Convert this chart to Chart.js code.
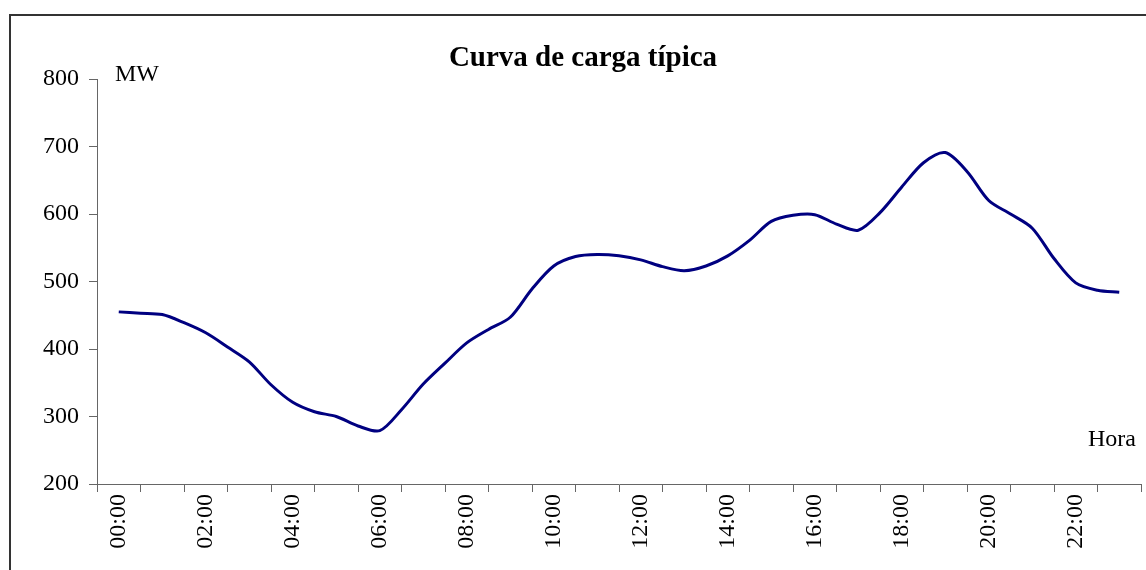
<!DOCTYPE html>
<html>
<head>
<meta charset="utf-8">
<script src="https://cdn.jsdelivr.net/npm/chart.js@4.4.1/dist/chart.umd.min.js"></script>
<style>
  html, body { margin: 0; padding: 0; background: #fff; overflow: hidden; }
  #wrap { position: relative; width: 1146px; height: 570px; overflow: hidden; background: #fff; }
  #frame { position: absolute; left: 9px; top: 14px; width: 1200px; height: 600px; border: 2px solid #333; pointer-events: none; }
  canvas { position: absolute; left: 0; top: 0; }
  .txt { position: absolute; font-family: "Liberation Serif", "Times New Roman", serif; color: #000; line-height: 1; white-space: nowrap; }
  #title { font-size: 29px; font-weight: bold; left: 583px; top: 42px; transform: translateX(-50%); }
  #mw { font-size: 24px; left: 115px; top: 61px; }
  #hora { font-size: 24px; left: 1088px; top: 426px; }
</style>
</head>
<body>
<div id="wrap">
  <canvas id="c" width="1146" height="570"></canvas>
  <div id="frame"></div>
  <div class="txt" id="title">Curva de carga típica</div>
  <div class="txt" id="mw">MW</div>
  <div class="txt" id="hora">Hora</div>
</div>
<script>
// Half-hourly times of the series
const horas = ["00:00","00:30","01:00","01:30","02:00","02:30","03:00","03:30","04:00","04:30",
  "05:00","05:30","06:00","06:30","07:00","07:30","08:00","08:30","09:00","09:30",
  "10:00","10:30","11:00","11:30","12:00","12:30","13:00","13:30","14:00","14:30",
  "15:00","15:30","16:00","16:30","17:00","17:30","18:00","18:30","19:00","19:30",
  "20:00","20:30","21:00","21:30","22:00","22:30","23:00"];
// Load in MW
const cargaMW = [455,453,451,439,424,403,381,347,321,307,
  300,286,279,310,348,379,409,429,447,489,
  523,537,540,538,532,522,516,523,538,561,
  589,598,599,585,576,602,640,676,691,663,
  620,600,579,534,498,487,484];
// Axis tick labels
const etiquetasX = ["00:00","02:00","04:00","06:00","08:00","10:00","12:00","14:00","16:00","18:00","20:00","22:00"];
const ticksY = [200,300,400,500,600,700,800];

const toHours = s => { const [h,m] = s.split(":").map(Number); return h + m/60; };
const puntos = horas.map((t,i) => ({ x: toHours(t), y: cargaMW[i] }));
const labelHours = etiquetasX.map(toHours);

const axisColor = '#666';
const font = { family: "'Liberation Serif', 'Times New Roman', serif", size: 24 };

new Chart(document.getElementById('c'), {
  type: 'line',
  data: {
    datasets: [{
      data: puntos,
      borderColor: '#000080',
      borderWidth: 3,
      pointRadius: 0,
      tension: 0.3,
      fill: false
    }]
  },
  options: {
    responsive: false,
    animation: false,
    devicePixelRatio: 1,
    layout: { padding: { top: 79, right: 5, left: 0, bottom: 0 } },
    plugins: { legend: { display: false }, tooltip: { enabled: false }, title: { display: false } },
    scales: {
      x: {
        type: 'linear',
        min: -0.5,
        max: 23.5,
        afterBuildTicks: (scale) => {
          const t = [];
          for (let v = -0.5; v <= 23.5 + 1e-9; v += 0.5) t.push({ value: v });
          scale.ticks = t;
        },
        afterFit: (scale) => { scale.height = 86; scale.paddingLeft = 0; scale.paddingRight = 0; },
        border: { display: true, color: axisColor, width: 1 },
        grid: {
          drawOnChartArea: false,
          drawTicks: true,
          tickLength: 8,
          tickColor: (ctx) => (ctx.tick && Math.abs(ctx.tick.value % 1) > 0.01) ? axisColor : 'rgba(0,0,0,0)'
        },
        ticks: {
          autoSkip: false,
          minRotation: 90,
          maxRotation: 90,
          padding: 2,
          color: '#000',
          font: font,
          callback: (v) => {
            const i = labelHours.findIndex(h => Math.abs(h - v) < 0.01);
            return i >= 0 ? etiquetasX[i] : '';
          }
        }
      },
      y: {
        min: 200,
        max: 800,
        afterBuildTicks: (scale) => { scale.ticks = ticksY.map(v => ({ value: v })); },
        afterFit: (scale) => { scale.width = 97; scale.paddingTop = 0; scale.paddingBottom = 0; },
        border: { display: true, color: axisColor, width: 1 },
        grid: { drawOnChartArea: false, drawTicks: true, tickLength: 8, tickColor: axisColor },
        ticks: { color: '#000', font: font, padding: 10 }
      }
    }
  }
});
</script>
</body>
</html>
